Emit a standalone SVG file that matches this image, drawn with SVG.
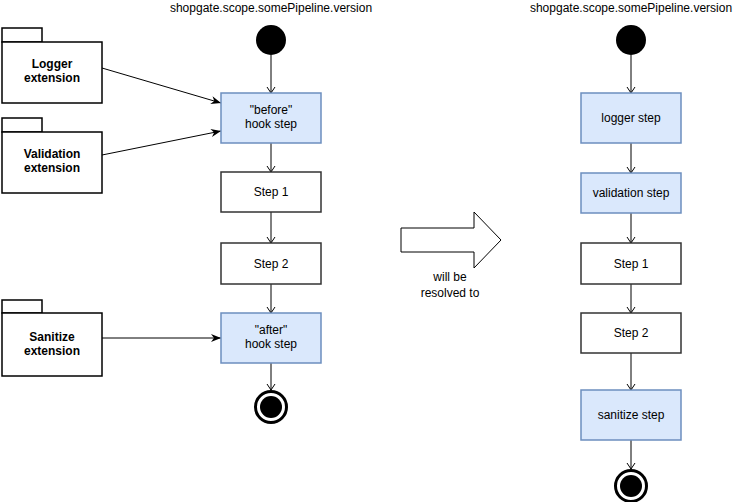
<svg xmlns="http://www.w3.org/2000/svg" width="734" height="502" viewBox="0 0 734 502">
<style>
text{font-family:"Liberation Sans",Arial,sans-serif;font-size:12px;fill:#000;text-anchor:middle}
.b{font-weight:bold}
.hook{fill:#dae8fc;stroke:#6c8ebf;stroke-width:1.5}
.step{fill:#fff;stroke:#333;stroke-width:1.5}
.pkg{fill:#fff;stroke:#000;stroke-width:1.5}
.c{stroke:#000;stroke-width:1;fill:none}
.o{marker-end:url(#open)}
.f{marker-end:url(#fill)}
</style>
<defs>
<marker id="open" markerWidth="10" markerHeight="10" refX="8" refY="5" orient="auto" markerUnits="userSpaceOnUse"><path d="M2,1 L8,5 L2,9" fill="none" stroke="#000"/></marker>
<marker id="fill" markerWidth="12" markerHeight="10" refX="10" refY="5" orient="auto" markerUnits="userSpaceOnUse"><path d="M0,1 L10,5 L0,9 L3,5 Z" fill="#000"/></marker>
</defs>
<rect width="734" height="502" fill="#fff"/>
<text x="271" y="12">shopgate.scope.somePipeline.version</text>
<text x="631" y="12">shopgate.scope.somePipeline.version</text>
<g id="connectors">
<line class="c o" x1="271" y1="55" x2="271" y2="93"/>
<line class="c o" x1="271" y1="143" x2="271" y2="172"/>
<line class="c o" x1="271" y1="212" x2="271" y2="243"/>
<line class="c o" x1="271" y1="284" x2="271" y2="313"/>
<line class="c o" x1="271" y1="363" x2="271" y2="390"/>
<line class="c f" x1="102" y1="68" x2="221" y2="103"/>
<line class="c f" x1="102" y1="155" x2="221" y2="131"/>
<line class="c f" x1="102" y1="338" x2="221" y2="338"/>
<line class="c o" x1="631" y1="55" x2="631" y2="93"/>
<line class="c o" x1="631" y1="143" x2="631" y2="173"/>
<line class="c o" x1="631" y1="213" x2="631" y2="243"/>
<line class="c o" x1="631" y1="284" x2="631" y2="313"/>
<line class="c o" x1="631" y1="353" x2="631" y2="390"/>
<line class="c o" x1="631" y1="440" x2="631" y2="469"/>
</g>
<g id="start1"><circle cx="271" cy="40" r="15" fill="#000"/></g>
<g id="before"><rect class="hook" x="221" y="93" width="100" height="50"/><text x="271" y="114">"before"</text><text x="271" y="128">hook step</text></g>
<g id="step1a"><rect class="step" x="221" y="172" width="100" height="40"/><text x="271" y="196">Step 1</text></g>
<g id="step2a"><rect class="step" x="221" y="243" width="100" height="41"/><text x="271" y="268">Step 2</text></g>
<g id="after"><rect class="hook" x="221" y="313" width="100" height="50"/><text x="271" y="334">"after"</text><text x="271" y="348">hook step</text></g>
<g id="end1"><circle cx="271" cy="407" r="15.5" fill="#fff" stroke="#000" stroke-width="3"/><circle cx="271" cy="407" r="11" fill="#000"/></g>
<g id="logger"><rect class="pkg" x="2" y="28" width="40" height="14"/><rect class="pkg" x="2" y="42" width="100" height="61"/><text class="b" x="52" y="68">Logger</text><text class="b" x="52" y="82">extension</text></g>
<g id="validation"><rect class="pkg" x="2" y="118" width="40" height="14"/><rect class="pkg" x="2" y="132" width="100" height="61"/><text class="b" x="52" y="158">Validation</text><text class="b" x="52" y="172">extension</text></g>
<g id="sanitize"><rect class="pkg" x="2" y="300" width="40" height="13"/><rect class="pkg" x="2" y="313" width="100" height="63"/><text class="b" x="52" y="341">Sanitize</text><text class="b" x="52" y="355">extension</text></g>
<g id="bigarrow"><path d="M401,228 H474 V212 L501,240 L474,268 V252 H401 Z" fill="#fff" stroke="#000" stroke-width="1"/><text x="450" y="281">will be</text><text x="450" y="297">resolved to</text></g>
<g id="start2"><circle cx="631" cy="40" r="15" fill="#000"/></g>
<g id="loggerstep"><rect class="hook" x="581" y="93" width="100" height="50"/><text x="631" y="122">logger step</text></g>
<g id="validationstep"><rect class="hook" x="581" y="173" width="100" height="40"/><text x="631" y="197">validation step</text></g>
<g id="step1b"><rect class="step" x="581" y="243" width="100" height="41"/><text x="631" y="268">Step 1</text></g>
<g id="step2b"><rect class="step" x="581" y="313" width="100" height="40"/><text x="631" y="337">Step 2</text></g>
<g id="sanitizestep"><rect class="hook" x="581" y="390" width="100" height="50"/><text x="631" y="419">sanitize step</text></g>
<g id="end2"><circle cx="631" cy="486" r="15.5" fill="#fff" stroke="#000" stroke-width="3"/><circle cx="631" cy="486" r="11" fill="#000"/></g>
</svg>
